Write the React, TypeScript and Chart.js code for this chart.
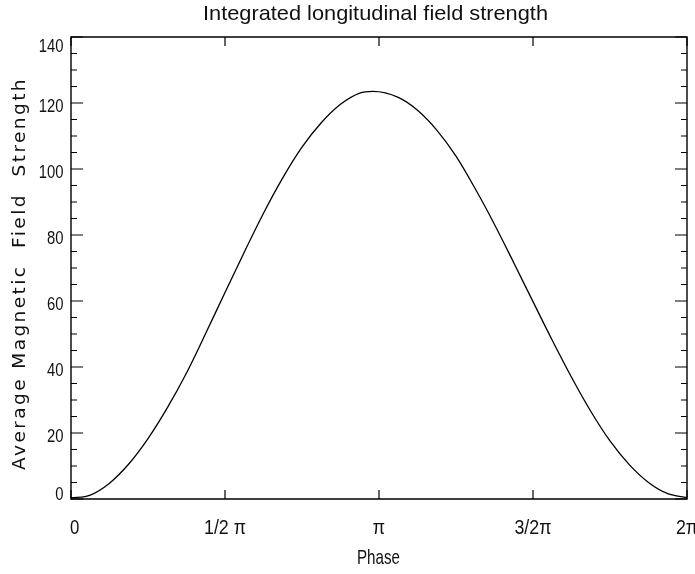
import React, { useEffect, useRef } from 'react';
import { Chart, registerables } from 'chart.js';

Chart.register(...registerables);

const TITLE = 'Integrated longitudinal field strength';
const X_TITLE = 'Phase';
const Y_TITLE = 'Average Magnetic  Field  Strength';

// phase in units of pi
const PHASE_PI = [
  0, 0.0625, 0.125, 0.1875, 0.25, 0.3125, 0.375, 0.4375, 0.5, 0.5625, 0.625,
  0.6875, 0.75, 0.8125, 0.875, 0.9375, 0.98, 1.0625, 1.125, 1.1875, 1.25, 1.3125,
  1.375, 1.4375, 1.5, 1.5625, 1.625, 1.6875, 1.75, 1.8125, 1.875, 1.9375, 2,
];

const FIELD = [
  0.3, 1.2, 4.8, 10.6, 18.3, 27.6, 38.2, 50.2, 62.6, 74.8, 86.6,
  97.3, 106.6, 114.0, 119.6, 123.0, 123.5, 121.7, 117.8, 111.8, 103.9, 94.0,
  83.2, 71.6, 59.8, 48.1, 36.9, 26.6, 17.6, 10.4, 5.0, 1.6, 0.4,
];

const X_TICK_VALUES = [0, 0.5, 1, 1.5, 2];
const X_TICK_LABELS = ['0', '1/2 π', 'π', '3/2π', '2π'];
const Y_TICK_VALUES = [0, 20, 40, 60, 80, 100, 120, 140];
const Y_TICK_LABELS = ['0', '20', '40', '60', '80', '100', '120', '140'];
const Y_MINOR_STEP = 5;

const SANS = "'Liberation Sans', Arial, sans-serif";
const WIDE = "'DejaVu Sans', sans-serif";

function drawScaled(
  ctx: CanvasRenderingContext2D,
  text: string,
  x: number,
  y: number,
  sx: number,
  align: CanvasTextAlign
) {
  ctx.save();
  ctx.translate(x, y);
  ctx.scale(sx, 1);
  ctx.textAlign = align;
  ctx.textBaseline = 'alphabetic';
  ctx.fillText(text, 0, 0);
  ctx.restore();
}

function drawFitted(
  ctx: CanvasRenderingContext2D,
  text: string,
  left: number,
  baseline: number,
  width: number
) {
  const w0 = ctx.measureText(text).width;
  const sx = width / w0;
  ctx.save();
  ctx.translate(left, baseline);
  ctx.scale(sx, 1);
  ctx.textAlign = 'left';
  ctx.textBaseline = 'alphabetic';
  ctx.fillText(text, 0, 0);
  ctx.restore();
}

const idlPlugin = {
  id: 'idlFrame',
  afterDraw(chart: any) {
    const ctx: CanvasRenderingContext2D = chart.ctx;
    const { left, right, top, bottom } = chart.chartArea;
    const xs = chart.scales.x;
    const ys = chart.scales.y;
    ctx.save();
    ctx.strokeStyle = '#000';
    ctx.lineWidth = 1.4;
    ctx.beginPath();
    ctx.rect(left, top, right - left, bottom - top);
    ctx.stroke();

    // y ticks (inward, both sides)
    ctx.lineWidth = 1.2;
    ctx.beginPath();
    for (let v = ys.min; v <= ys.max + 1e-9; v += Y_MINOR_STEP) {
      const py = ys.getPixelForValue(v);
      const major = Y_TICK_VALUES.includes(v);
      const len = major ? 12 : 6;
      ctx.moveTo(left, py);
      ctx.lineTo(left + len, py);
      ctx.moveTo(right, py);
      ctx.lineTo(right - len, py);
    }
    // x ticks (inward, top and bottom)
    X_TICK_VALUES.forEach((v) => {
      const px = xs.getPixelForValue(v);
      ctx.moveTo(px, bottom);
      ctx.lineTo(px, bottom - 9);
      ctx.moveTo(px, top);
      ctx.lineTo(px, top + 9);
    });
    ctx.stroke();

    ctx.fillStyle = '#111';
    // y tick labels
    ctx.font = `19px ${SANS}`;
    Y_TICK_VALUES.forEach((v, i) => {
      const py = ys.getPixelForValue(v);
      let base = py + 9;
      if (i === 0) base = py + 1;
      if (i === Y_TICK_VALUES.length - 1) base = py + 15;
      drawScaled(ctx, Y_TICK_LABELS[i], 63.5, base, 0.78, 'right');
    });

    // x tick labels
    ctx.font = `21px ${SANS}`;
    X_TICK_VALUES.forEach((v, i) => {
      const px = xs.getPixelForValue(v);
      if (i === 0) drawScaled(ctx, X_TICK_LABELS[i], px - 1, 534, 0.8, 'left');
      else drawScaled(ctx, X_TICK_LABELS[i], px, 534, 0.85, 'center');
    });

    // title
    ctx.font = `21px ${SANS}`;
    drawFitted(ctx, TITLE, 203, 20, 345);

    // x title
    ctx.font = `21px ${SANS}`;
    drawFitted(ctx, X_TITLE, 357, 564, 43);

    // y title (rotated, letter-spaced)
    ctx.font = `18.5px ${WIDE}`;
    const target = 393;
    const w0 = ctx.measureText(Y_TITLE).width;
    const ls = Math.max(0, (target - w0) / Y_TITLE.length);
    ctx.save();
    ctx.translate(25, 273.5);
    ctx.rotate(-Math.PI / 2);
    (ctx as any).letterSpacing = `${ls}px`;
    ctx.textAlign = 'left';
    ctx.textBaseline = 'alphabetic';
    ctx.fillText(Y_TITLE, -target / 2, 0);
    ctx.restore();

    ctx.restore();
  },
};

export default function App() {
  const canvasRef = useRef<HTMLCanvasElement | null>(null);

  useEffect(() => {
    if (!canvasRef.current) return;
    const chart = new Chart(canvasRef.current, {
      type: 'line',
      data: {
        datasets: [
          {
            data: PHASE_PI.map((p, i) => ({ x: p, y: FIELD[i] })),
            borderColor: '#000',
            borderWidth: 1.3,
            pointRadius: 0,
            fill: false,
            cubicInterpolationMode: 'monotone',
          },
        ],
      },
      options: {
        responsive: false,
        animation: false,
        layout: { padding: { left: 71, right: 8, top: 37, bottom: 75 } },
        scales: {
          x: { type: 'linear', min: 0, max: 2, display: false },
          y: { type: 'linear', min: 0, max: 140, display: false },
        },
        plugins: {
          legend: { display: false },
          tooltip: { enabled: false },
          title: { display: false },
        },
      },
      plugins: [idlPlugin],
    });
    return () => chart.destroy();
  }, []);

  return (
    <div style={{ position: 'absolute', left: 0, top: 0, width: 695, height: 574, background: '#fff' }}>
      <canvas ref={canvasRef} width={695} height={574} />
    </div>
  );
}
